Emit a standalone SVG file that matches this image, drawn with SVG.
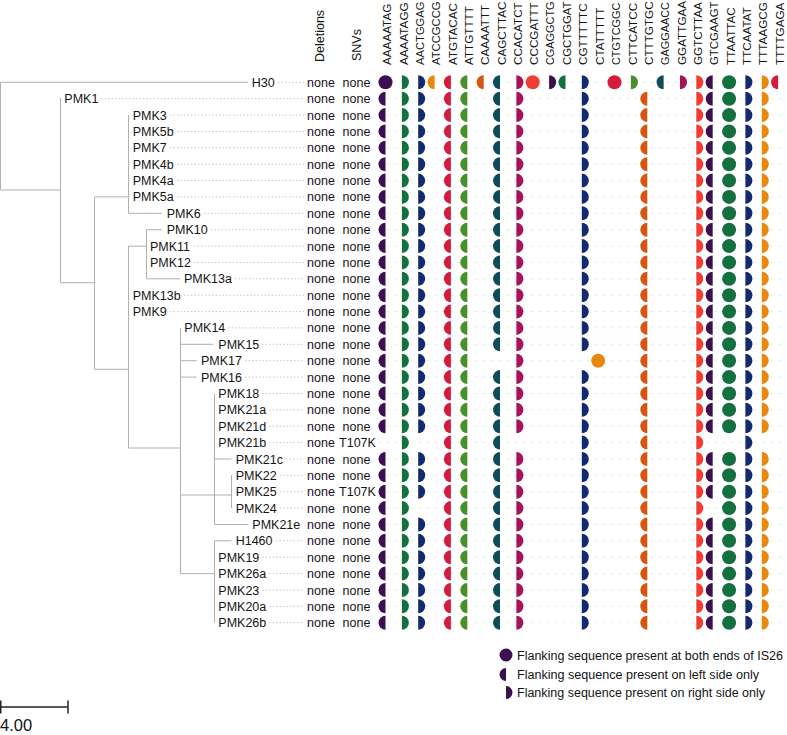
<svg xmlns="http://www.w3.org/2000/svg" xmlns:xlink="http://www.w3.org/1999/xlink" width="787" height="735" viewBox="0 0 787 735">
<style>
.t{font-family:"Liberation Sans",Arial,sans-serif;font-size:12.5px;fill:#141414}
.hd{font-family:"Liberation Sans",Arial,sans-serif;font-size:11.7px;fill:#141414}
.hs{font-size:10.9px}
.m{text-anchor:middle}
.lg{font-family:"Liberation Sans",Arial,sans-serif;font-size:12px;fill:#141414}
.tree{fill:none;stroke:#b0b0b0;stroke-width:1}
.lead{stroke:#c6c6c6;stroke-width:1;stroke-dasharray:1.5 2}
.lead2{stroke:#ebebeb;stroke-width:1;stroke-dasharray:3 5}
.c0{fill:#3b0f50}.c1{fill:#13703f}.c2{fill:#14296e}.c3{fill:#e8890f}.c4{fill:#d51b3d}
.c5{fill:#4b8e2c}.c6{fill:#d4560f}.c7{fill:#0e4b5b}.c8{fill:#a8125b}.c9{fill:#f03d32}
</style>
<defs>
<path id="L" d="M0,-7A7,7 0 0 0 0,7Z"/>
<path id="R" d="M0,-7A7,7 0 0 1 0,7Z"/>
<circle id="F" r="7"/>
<g id="P">
<use href="#L" x="385.5" class="c0"/><use href="#R" x="401.9" class="c1"/><use href="#R" x="418.2" class="c2"/>
<use href="#L" x="450.9" class="c4"/><use href="#L" x="467.3" class="c5"/><use href="#L" x="500.0" class="c7"/>
<use href="#R" x="516.4" class="c8"/><use href="#R" x="581.8" class="c2"/><use href="#L" x="647.3" class="c6"/>
<use href="#R" x="696.3" class="c9"/><use href="#L" x="712.7" class="c0"/><use href="#F" x="729.1" class="c1"/>
<use href="#R" x="745.4" class="c2"/><use href="#R" x="761.8" class="c3"/>
</g>
</defs>
<rect width="787" height="735" fill="#fff"/>

<g id="headers">
<text class="t" transform="translate(324,62) rotate(-90)">Deletions</text>
<text class="t" transform="translate(360.5,61) rotate(-90)">SNVs</text>
<g class="hd">
<text transform="translate(391.2,65) rotate(-90)">AAAAATAG</text>
<text transform="translate(407.6,65) rotate(-90)">AAAATAGG</text>
<text transform="translate(423.9,65) rotate(-90)" textLength="63.5" lengthAdjust="spacingAndGlyphs">AACTGGAG</text>
<text transform="translate(440.3,65) rotate(-90)" textLength="63.5" lengthAdjust="spacingAndGlyphs">ATCCGCCG</text>
<text transform="translate(456.6,65) rotate(-90)">ATGTACAC</text>
<text transform="translate(473.0,65) rotate(-90)">ATTGTTTT</text>
<text transform="translate(489.3,65) rotate(-90)">CAAAATTT</text>
<text transform="translate(505.7,65) rotate(-90)">CAGCTTAC</text>
<text transform="translate(522.0,65) rotate(-90)">CCACATCT</text>
<text transform="translate(538.4,65) rotate(-90)">CCCGATTT</text>
<text class="hs" transform="translate(554.4,65) rotate(-90)">CGAGGCTG</text>
<text transform="translate(571.1,65) rotate(-90)" textLength="63.5" lengthAdjust="spacingAndGlyphs">CGCTGGAT</text>
<text transform="translate(587.4,65) rotate(-90)">CGTTTTTC</text>
<text transform="translate(603.8,65) rotate(-90)">CTATTTTT</text>
<text class="hs" transform="translate(619.8,65) rotate(-90)">CTGTCGGC</text>
<text transform="translate(636.5,65) rotate(-90)">CTTCATCC</text>
<text transform="translate(652.8,65) rotate(-90)">CTTTGTGC</text>
<text class="hs" transform="translate(668.9,65) rotate(-90)">GAGGAACC</text>
<text transform="translate(685.5,65) rotate(-90)">GGATTGAA</text>
<text transform="translate(701.9,65) rotate(-90)">GGTCTTAA</text>
<text transform="translate(718.2,65) rotate(-90)" textLength="63.5" lengthAdjust="spacingAndGlyphs">GTCGAAGT</text>
<text transform="translate(734.6,65) rotate(-90)">TTAATTAC</text>
<text transform="translate(750.9,65) rotate(-90)">TTCAATAT</text>
<text transform="translate(767.3,65) rotate(-90)">TTTAAGCG</text>
<text transform="translate(783.6,65) rotate(-90)">TTTTGAGA</text>
</g>
</g>

<g id="connectors">
<path class="tree" d="M0.5,82.3H248M0.5,82.3V190M0.5,190H60.5M60.5,97.7V282.7M60.5,282.7H94.5M94.5,196.9V369.3M94.5,196.9H128.5M94.5,369.3H128.5M128.5,115.1V213.3M128.5,213.3H161.7M128.5,246.1V448M128.5,246.1H146.5M128.5,448H180.5M146.5,229.7V278.8M146.5,229.7H161.7M146.5,278.8H180M180.5,327.9V573.6M180.5,344.3H213.3M180.5,360.7H196.7M180.5,377.1H196.7M180.5,495H231.5M180.5,573.6H214.5M214.5,393.5V524.5M214.5,459H231.5M214.5,524.5H248.3M231.5,475.3V508.1M214.5,540.8V622.7M214.5,540.8H231.5"/>
</g>

<g id="row-H30" transform="translate(0,82.3)">
<line class="lead" x1="278" y1="0" x2="304" y2="0"/><line class="lead2" x1="378" y1="0" x2="786" y2="0"/>
<text class="t" x="251.7" y="4.5">H30</text><text class="t m" x="321" y="4.5">none</text><text class="t m" x="356.5" y="4.5">none</text>
<use href="#F" x="385.5" class="c0"/><use href="#R" x="401.9" class="c1"/><use href="#R" x="418.2" class="c2"/><use href="#L" x="434.6" class="c3"/>
<use href="#L" x="450.9" class="c4"/><use href="#L" x="467.3" class="c5"/><use href="#L" x="483.7" class="c6"/><use href="#L" x="500.0" class="c7"/>
<use href="#R" x="516.4" class="c8"/><use href="#F" x="532.7" class="c9"/><use href="#R" x="549.1" class="c0"/><use href="#L" x="565.5" class="c1"/>
<use href="#R" x="581.8" class="c2"/><use href="#F" x="614.5" class="c4"/><use href="#R" x="630.9" class="c5"/><use href="#L" x="663.6" class="c7"/>
<use href="#R" x="680.0" class="c8"/><use href="#R" x="696.3" class="c9"/><use href="#L" x="712.7" class="c0"/><use href="#F" x="729.1" class="c1"/>
<use href="#R" x="745.4" class="c2"/><use href="#R" x="761.8" class="c3"/><use href="#L" x="778.1" class="c4"/>
</g>

<g id="row-PMK1" transform="translate(0,98.7)"><line class="lead" x1="101" y1="0" x2="304" y2="0"/><line class="lead2" x1="378" y1="0" x2="786" y2="0"/><text class="t" x="64.3" y="4.5">PMK1</text><text class="t m" x="321" y="4.5">none</text><text class="t m" x="356.5" y="4.5">none</text><use href="#P"/></g>
<g id="row-PMK3" transform="translate(0,115.1)"><line class="lead" x1="170" y1="0" x2="304" y2="0"/><line class="lead2" x1="378" y1="0" x2="786" y2="0"/><text class="t" x="132.7" y="4.5">PMK3</text><text class="t m" x="321" y="4.5">none</text><text class="t m" x="356.5" y="4.5">none</text><use href="#P"/></g>
<g id="row-PMK5b" transform="translate(0,131.4)"><line class="lead" x1="177" y1="0" x2="304" y2="0"/><line class="lead2" x1="378" y1="0" x2="786" y2="0"/><text class="t" x="132.7" y="4.5">PMK5b</text><text class="t m" x="321" y="4.5">none</text><text class="t m" x="356.5" y="4.5">none</text><use href="#P"/></g>
<g id="row-PMK7" transform="translate(0,147.8)"><line class="lead" x1="170" y1="0" x2="304" y2="0"/><line class="lead2" x1="378" y1="0" x2="786" y2="0"/><text class="t" x="132.7" y="4.5">PMK7</text><text class="t m" x="321" y="4.5">none</text><text class="t m" x="356.5" y="4.5">none</text><use href="#P"/></g>
<g id="row-PMK4b" transform="translate(0,164.2)"><line class="lead" x1="177" y1="0" x2="304" y2="0"/><line class="lead2" x1="378" y1="0" x2="786" y2="0"/><text class="t" x="132.7" y="4.5">PMK4b</text><text class="t m" x="321" y="4.5">none</text><text class="t m" x="356.5" y="4.5">none</text><use href="#P"/></g>
<g id="row-PMK4a" transform="translate(0,180.6)"><line class="lead" x1="177" y1="0" x2="304" y2="0"/><line class="lead2" x1="378" y1="0" x2="786" y2="0"/><text class="t" x="132.7" y="4.5">PMK4a</text><text class="t m" x="321" y="4.5">none</text><text class="t m" x="356.5" y="4.5">none</text><use href="#P"/></g>
<g id="row-PMK5a" transform="translate(0,196.9)"><line class="lead" x1="177" y1="0" x2="304" y2="0"/><line class="lead2" x1="378" y1="0" x2="786" y2="0"/><text class="t" x="132.7" y="4.5">PMK5a</text><text class="t m" x="321" y="4.5">none</text><text class="t m" x="356.5" y="4.5">none</text><use href="#P"/></g>
<g id="row-PMK6" transform="translate(0,213.3)"><line class="lead" x1="204" y1="0" x2="304" y2="0"/><line class="lead2" x1="378" y1="0" x2="786" y2="0"/><text class="t" x="166.7" y="4.5">PMK6</text><text class="t m" x="321" y="4.5">none</text><text class="t m" x="356.5" y="4.5">none</text><use href="#P"/></g>
<g id="row-PMK10" transform="translate(0,229.7)"><line class="lead" x1="211" y1="0" x2="304" y2="0"/><line class="lead2" x1="378" y1="0" x2="786" y2="0"/><text class="t" x="166.7" y="4.5">PMK10</text><text class="t m" x="321" y="4.5">none</text><text class="t m" x="356.5" y="4.5">none</text><use href="#P"/></g>
<g id="row-PMK11" transform="translate(0,246.1)"><line class="lead" x1="194" y1="0" x2="304" y2="0"/><line class="lead2" x1="378" y1="0" x2="786" y2="0"/><text class="t" x="150" y="4.5">PMK11</text><text class="t m" x="321" y="4.5">none</text><text class="t m" x="356.5" y="4.5">none</text><use href="#P"/></g>
<g id="row-PMK12" transform="translate(0,262.4)"><line class="lead" x1="194" y1="0" x2="304" y2="0"/><line class="lead2" x1="378" y1="0" x2="786" y2="0"/><text class="t" x="150" y="4.5">PMK12</text><text class="t m" x="321" y="4.5">none</text><text class="t m" x="356.5" y="4.5">none</text><use href="#P"/></g>
<g id="row-PMK13a" transform="translate(0,278.8)"><line class="lead" x1="235" y1="0" x2="304" y2="0"/><line class="lead2" x1="378" y1="0" x2="786" y2="0"/><text class="t" x="184" y="4.5">PMK13a</text><text class="t m" x="321" y="4.5">none</text><text class="t m" x="356.5" y="4.5">none</text><use href="#P"/></g>
<g id="row-PMK13b" transform="translate(0,295.2)"><line class="lead" x1="184" y1="0" x2="304" y2="0"/><line class="lead2" x1="378" y1="0" x2="786" y2="0"/><text class="t" x="132.7" y="4.5">PMK13b</text><text class="t m" x="321" y="4.5">none</text><text class="t m" x="356.5" y="4.5">none</text><use href="#P"/></g>
<g id="row-PMK9" transform="translate(0,311.6)"><line class="lead" x1="170" y1="0" x2="304" y2="0"/><line class="lead2" x1="378" y1="0" x2="786" y2="0"/><text class="t" x="132.7" y="4.5">PMK9</text><text class="t m" x="321" y="4.5">none</text><text class="t m" x="356.5" y="4.5">none</text><use href="#P"/></g>
<g id="row-PMK14" transform="translate(0,327.9)"><line class="lead" x1="228" y1="0" x2="304" y2="0"/><line class="lead2" x1="378" y1="0" x2="786" y2="0"/><text class="t" x="184.3" y="4.5">PMK14</text><text class="t m" x="321" y="4.5">none</text><text class="t m" x="356.5" y="4.5">none</text><use href="#P"/></g>
<g id="row-PMK15" transform="translate(0,344.3)"><line class="lead" x1="262" y1="0" x2="304" y2="0"/><line class="lead2" x1="378" y1="0" x2="786" y2="0"/><text class="t" x="218.3" y="4.5">PMK15</text><text class="t m" x="321" y="4.5">none</text><text class="t m" x="356.5" y="4.5">none</text><use href="#P"/></g>
<g id="row-PMK17" transform="translate(0,360.7)"><line class="lead" x1="245" y1="0" x2="304" y2="0"/><line class="lead2" x1="378" y1="0" x2="786" y2="0"/><text class="t" x="201" y="4.5">PMK17</text><text class="t m" x="321" y="4.5">none</text><text class="t m" x="356.5" y="4.5">none</text>
<use href="#L" x="385.5" class="c0"/><use href="#R" x="401.9" class="c1"/><use href="#R" x="418.2" class="c2"/>
<use href="#L" x="450.9" class="c4"/><use href="#L" x="467.3" class="c5"/><use href="#R" x="516.4" class="c8"/>
<use href="#F" x="598.2" class="c3"/><use href="#L" x="647.3" class="c6"/>
<use href="#R" x="696.3" class="c9"/><use href="#L" x="712.7" class="c0"/><use href="#F" x="729.1" class="c1"/>
<use href="#R" x="745.4" class="c2"/><use href="#R" x="761.8" class="c3"/></g>
<g id="row-PMK16" transform="translate(0,377.1)"><line class="lead" x1="245" y1="0" x2="304" y2="0"/><line class="lead2" x1="378" y1="0" x2="786" y2="0"/><text class="t" x="201" y="4.5">PMK16</text><text class="t m" x="321" y="4.5">none</text><text class="t m" x="356.5" y="4.5">none</text><use href="#P"/></g>
<g id="row-PMK18" transform="translate(0,393.5)"><line class="lead" x1="262" y1="0" x2="304" y2="0"/><line class="lead2" x1="378" y1="0" x2="786" y2="0"/><text class="t" x="218.3" y="4.5">PMK18</text><text class="t m" x="321" y="4.5">none</text><text class="t m" x="356.5" y="4.5">none</text><use href="#P"/></g>
<g id="row-PMK21a" transform="translate(0,409.8)"><line class="lead" x1="269" y1="0" x2="304" y2="0"/><line class="lead2" x1="378" y1="0" x2="786" y2="0"/><text class="t" x="218.3" y="4.5">PMK21a</text><text class="t m" x="321" y="4.5">none</text><text class="t m" x="356.5" y="4.5">none</text><use href="#P"/></g>
<g id="row-PMK21d" transform="translate(0,426.2)"><line class="lead" x1="269" y1="0" x2="304" y2="0"/><line class="lead2" x1="378" y1="0" x2="786" y2="0"/><text class="t" x="218.3" y="4.5">PMK21d</text><text class="t m" x="321" y="4.5">none</text><text class="t m" x="356.5" y="4.5">none</text><use href="#P"/></g>
<g id="row-PMK21b" transform="translate(0,442.6)"><line class="lead" x1="269" y1="0" x2="304" y2="0"/><line class="lead2" x1="378" y1="0" x2="786" y2="0"/><text class="t" x="218.3" y="4.5">PMK21b</text><text class="t m" x="321" y="4.5">none</text><text class="t m" x="357.5" y="4.5">T107K</text>
<use href="#R" x="401.9" class="c1"/><use href="#L" x="450.9" class="c4"/><use href="#L" x="467.3" class="c5"/><use href="#L" x="500.0" class="c7"/>
<use href="#R" x="581.8" class="c2"/><use href="#L" x="647.3" class="c6"/><use href="#R" x="696.3" class="c9"/><use href="#R" x="745.4" class="c2"/></g>
<g id="row-PMK21c" transform="translate(0,459.0)"><line class="lead" x1="286" y1="0" x2="304" y2="0"/><line class="lead2" x1="378" y1="0" x2="786" y2="0"/><text class="t" x="235.7" y="4.5">PMK21c</text><text class="t m" x="321" y="4.5">none</text><text class="t m" x="356.5" y="4.5">none</text><use href="#P"/></g>
<g id="row-PMK22" transform="translate(0,475.3)"><line class="lead" x1="280" y1="0" x2="304" y2="0"/><line class="lead2" x1="378" y1="0" x2="786" y2="0"/><text class="t" x="235.7" y="4.5">PMK22</text><text class="t m" x="321" y="4.5">none</text><text class="t m" x="356.5" y="4.5">none</text><use href="#P"/></g>
<g id="row-PMK25" transform="translate(0,491.7)"><line class="lead" x1="280" y1="0" x2="304" y2="0"/><line class="lead2" x1="378" y1="0" x2="786" y2="0"/><text class="t" x="235.7" y="4.5">PMK25</text><text class="t m" x="321" y="4.5">none</text><text class="t m" x="357.5" y="4.5">T107K</text><use href="#P"/></g>
<g id="row-PMK24" transform="translate(0,508.1)"><line class="lead" x1="280" y1="0" x2="304" y2="0"/><line class="lead2" x1="378" y1="0" x2="786" y2="0"/><text class="t" x="235.7" y="4.5">PMK24</text><text class="t m" x="321" y="4.5">none</text><text class="t m" x="356.5" y="4.5">none</text>
<use href="#L" x="385.5" class="c0"/><use href="#R" x="401.9" class="c1"/>
<use href="#L" x="450.9" class="c4"/><use href="#L" x="467.3" class="c5"/><use href="#L" x="500.0" class="c7"/>
<use href="#R" x="516.4" class="c8"/><use href="#R" x="581.8" class="c2"/><use href="#L" x="647.3" class="c6"/>
<use href="#R" x="696.3" class="c9"/><use href="#F" x="729.1" class="c1"/>
<use href="#R" x="745.4" class="c2"/><use href="#R" x="761.8" class="c3"/></g>
<g id="row-PMK21e" transform="translate(0,524.5)"><line class="lead2" x1="378" y1="0" x2="786" y2="0"/><text class="t" x="252.3" y="4.5">PMK21e</text><text class="t m" x="321" y="4.5">none</text><text class="t m" x="356.5" y="4.5">none</text><use href="#P"/></g>
<g id="row-H1460" transform="translate(0,540.8)"><line class="lead" x1="276" y1="0" x2="304" y2="0"/><line class="lead2" x1="378" y1="0" x2="786" y2="0"/><text class="t" x="235.7" y="4.5">H1460</text><text class="t m" x="321" y="4.5">none</text><text class="t m" x="356.5" y="4.5">none</text><use href="#P"/></g>
<g id="row-PMK19" transform="translate(0,557.2)"><line class="lead" x1="262" y1="0" x2="304" y2="0"/><line class="lead2" x1="378" y1="0" x2="786" y2="0"/><text class="t" x="218.3" y="4.5">PMK19</text><text class="t m" x="321" y="4.5">none</text><text class="t m" x="356.5" y="4.5">none</text><use href="#P"/></g>
<g id="row-PMK26a" transform="translate(0,573.6)"><line class="lead" x1="269" y1="0" x2="304" y2="0"/><line class="lead2" x1="378" y1="0" x2="786" y2="0"/><text class="t" x="218.3" y="4.5">PMK26a</text><text class="t m" x="321" y="4.5">none</text><text class="t m" x="356.5" y="4.5">none</text><use href="#P"/></g>
<g id="row-PMK23" transform="translate(0,590.0)"><line class="lead" x1="262" y1="0" x2="304" y2="0"/><line class="lead2" x1="378" y1="0" x2="786" y2="0"/><text class="t" x="218.3" y="4.5">PMK23</text><text class="t m" x="321" y="4.5">none</text><text class="t m" x="356.5" y="4.5">none</text><use href="#P"/></g>
<g id="row-PMK20a" transform="translate(0,606.3)"><line class="lead" x1="269" y1="0" x2="304" y2="0"/><line class="lead2" x1="378" y1="0" x2="786" y2="0"/><text class="t" x="218.3" y="4.5">PMK20a</text><text class="t m" x="321" y="4.5">none</text><text class="t m" x="356.5" y="4.5">none</text><use href="#P"/></g>
<g id="row-PMK26b" transform="translate(0,622.7)"><line class="lead" x1="269" y1="0" x2="304" y2="0"/><line class="lead2" x1="378" y1="0" x2="786" y2="0"/><text class="t" x="218.3" y="4.5">PMK26b</text><text class="t m" x="321" y="4.5">none</text><text class="t m" x="356.5" y="4.5">none</text><use href="#P"/></g>

<g id="legend">
<circle cx="506" cy="655" r="6.5" class="c0"/>
<text class="lg" x="517" y="659.5" textLength="266" lengthAdjust="spacingAndGlyphs">Flanking sequence present at both ends of IS26</text>
<path d="M506,668A6.5,6.5 0 0 0 506,681Z" class="c0"/>
<text class="lg" x="517" y="679" textLength="242" lengthAdjust="spacingAndGlyphs">Flanking sequence present on left side only</text>
<path d="M506,686A6.5,6.5 0 0 1 506,699Z" class="c0"/>
<text class="lg" x="517" y="697" textLength="248" lengthAdjust="spacingAndGlyphs">Flanking sequence present on right side only</text>
</g>

<g id="scale">
<path d="M0.75,707H68M0.75,700.5V713.5M68,700.5V713.5" fill="none" stroke="#222" stroke-width="1.5"/>
<text x="0" y="731" font-family="'Liberation Sans',Arial,sans-serif" font-size="16.5" fill="#141414">4.00</text>
</g>
</svg>
